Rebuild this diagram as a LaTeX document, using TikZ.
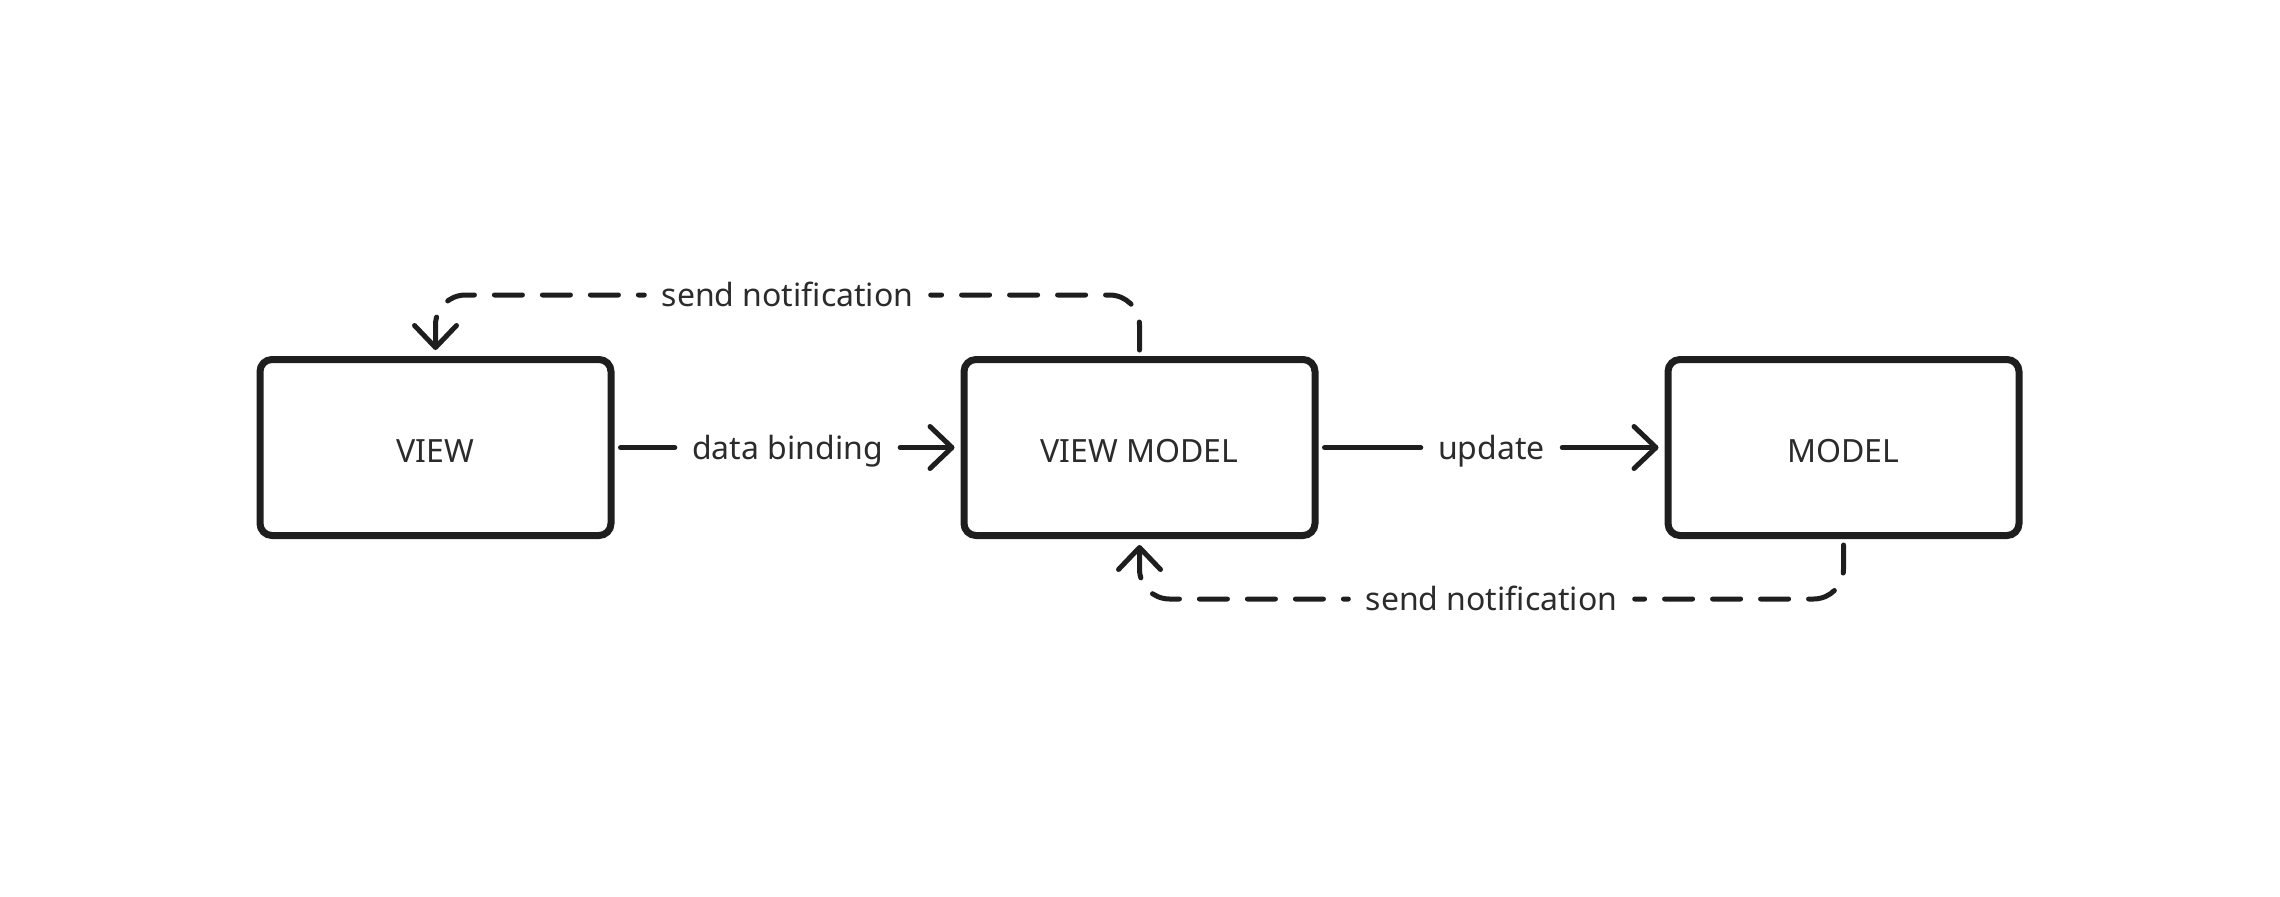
\documentclass[tikz,border=0pt]{standalone}
\usepackage{fontspec}
\setmainfont{Noto Sans}
\usetikzlibrary{arrows.meta}
\definecolor{ink}{HTML}{1E1E1E}
\definecolor{txt}{HTML}{2B2B2B}
\tikzset{
  box/.style={draw=ink, line width=3.5pt, rounded corners=6pt, minimum width=175.5pt, minimum height=88pt, text=txt, font=\fontsize{16}{19}\selectfont, text height=14.5pt, text depth=0pt},
  seg/.style={draw=ink, line width=2.5pt, line cap=round, line join=round},
  tip/.style={-{Straight Barb[length=11pt,width=21pt,line cap=round,line join=round]}},
  tipstart/.style={{Straight Barb[length=11pt,width=21pt,line cap=round,line join=round]}-},
  dashseg/.style={seg, dash pattern=on 14pt off 10pt, rounded corners=15pt},
  lbl/.style={text=txt, font=\fontsize{16}{19}\selectfont, inner xsep=8.5pt, inner ysep=0pt, text height=11.5pt, text depth=3pt, yshift=-1.5pt}
}
\begin{document}
\begin{tikzpicture}[x=0.5pt, y=-0.5pt]
\useasboundingbox (0,0) rectangle (2280,896);
\node[box] (view) at (435.5,447.5) {VIEW};
\node[box] (vm) at (1139.5,447.5) {VIEW MODEL};
\node[box] (model) at (1843.5,447.5) {MODEL};

% data binding
\node[lbl] (ldb) at (787.5,447.5) {data binding};
\draw[seg, shorten <=3pt] (view.east) -- (view.east -| ldb.west);
\draw[seg, tip, shorten >=3pt] (vm.west -| ldb.east) -- (vm.west);

% update
\node[lbl] (lup) at (1491.5,447.5) {update};
\draw[seg, shorten <=3pt] (vm.east) -- (vm.east -| lup.west);
\draw[seg, tip, shorten >=3pt] (model.west -| lup.east) -- (model.west);

% top send notification
\node[lbl] (ltop) at (787.5,295) {send notification};
\coordinate (t1) at (1139.5,295);
\coordinate (t2) at (435.5,295);
\draw[dashseg, shorten <=3pt] (vm.north) -- (t1) -- (t1 -| ltop.east);
\draw[dashseg, tipstart, shorten <=3pt] (view.north) -- (t2) -- (t2 -| ltop.west);

% bottom send notification
\node[lbl] (lbot) at (1491.5,599) {send notification};
\coordinate (b1) at (1843.5,599);
\coordinate (b2) at (1139.5,599);
\draw[dashseg, shorten <=3pt] (model.south) -- (b1) -- (b1 -| lbot.east);
\draw[dashseg, tipstart, shorten <=3pt] (vm.south) -- (b2) -- (b2 -| lbot.west);
\end{tikzpicture}
\end{document}
